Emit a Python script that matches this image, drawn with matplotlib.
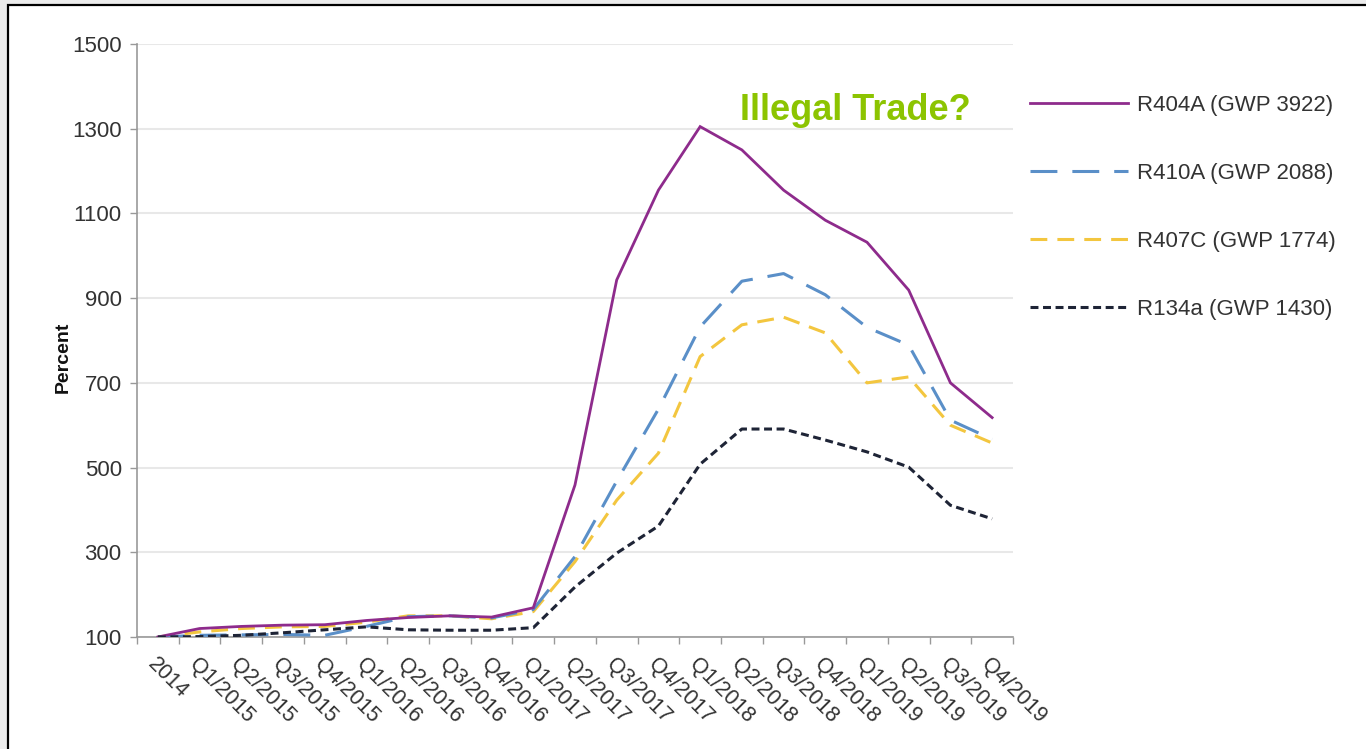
import matplotlib
matplotlib.use("Agg")
import matplotlib.pyplot as plt
from matplotlib.patches import Rectangle
import numpy as np

plt.rcParams['font.family'] = ['Liberation Sans', 'DejaVu Sans']

categories = ["2014", "Q1/2015", "Q2/2015", "Q3/2015", "Q4/2015",
              "Q1/2016", "Q2/2016", "Q3/2016", "Q4/2016",
              "Q1/2017", "Q2/2017", "Q3/2017", "Q4/2017",
              "Q1/2018", "Q2/2018", "Q3/2018", "Q4/2018",
              "Q1/2019", "Q2/2019", "Q3/2019", "Q4/2019"]

r404a = [100, 120, 125, 128, 129, 139, 146, 150, 147, 169, 459, 943, 1155, 1305, 1250, 1155, 1084, 1032, 919, 700, 618]
r410a = [100, 104, 105, 106, 104, 125, 148, 150, 145, 165, 290, 468, 638, 832, 940, 958, 908, 831, 789, 612, 567]
r407c = [100, 112, 120, 124, 125, 135, 150, 150, 143, 160, 278, 423, 534, 762, 837, 855, 818, 700, 714, 600, 558]
r134a = [100, 101, 104, 110, 117, 124, 117, 116, 116, 122, 218, 298, 362, 508, 591, 591, 565, 537, 501, 411, 379]

labels = ["R404A (GWP 3922)", "R410A (GWP 2088)", "R407C (GWP 1774)", "R134a (GWP 1430)"]
yticks = [100, 300, 500, 700, 900, 1100, 1300, 1500]

W, H = 1366, 749
fig = plt.figure(figsize=(W / 100, H / 100), dpi=100, facecolor="#ececec")

# outer frame
fig.patches.append(Rectangle((8 / W, -0.05), 1.1, 1.05 - 5 / H, transform=fig.transFigure,
                             facecolor="white", edgecolor="black", linewidth=1.6, zorder=-10))

ax = fig.add_axes([137 / W, 1 - 637 / H, (1013 - 137) / W, (637 - 44) / H])
ax.set_facecolor("white")
ax.set_zorder(1)

x = np.arange(len(categories))
lw = 2.2
ax.plot(x, r404a, color="#8E2B8C", lw=2.0, label=labels[0], solid_joinstyle="miter", zorder=5)
ax.plot(x, r410a, color="#5A8FC8", lw=lw, dashes=(8.8, 4.9), label=labels[1], zorder=4)
ax.plot(x, r407c, color="#F3C63F", lw=lw, dashes=(5.5, 3.3), label=labels[2], zorder=3)
ax.plot(x, r134a, color="#1E2436", lw=lw, dashes=(2.6, 1.5), label=labels[3], zorder=6)

ax.set_xlim(-0.5, len(categories) - 0.5)
ax.set_ylim(100, 1500)
ax.set_yticks(yticks)
ax.set_yticklabels([str(v) for v in yticks], fontsize=16, color="#333333")

ax.set_xticks(x)
ax.set_xticklabels(categories, rotation=-45, ha="left", va="top",
                   rotation_mode="anchor", fontsize=15.5, color="#333333")
ax.set_xticks(np.arange(-0.5, len(categories), 1.0), minor=True)
ax.tick_params(axis="x", which="major", length=0, pad=12)
ax.tick_params(axis="x", which="minor", length=5, color="#999999", width=1)
ax.tick_params(axis="y", length=5, color="#999999", width=1, pad=6)

for s in ["top", "right"]:
    ax.spines[s].set_visible(False)
for s in ["left", "bottom"]:
    ax.spines[s].set_color("#999999")
    ax.spines[s].set_linewidth(1.2)

ax.grid(axis="y", color="#e8e8e8", linewidth=1.5)
ax.set_axisbelow(True)

ax.set_ylabel("Percent", fontsize=14, fontweight="bold", color="#111111")
ax.yaxis.set_label_coords((72 - 137) / 876, (637 - 357) / 593)

leg = ax.legend(loc="upper left", bbox_to_anchor=(1030 / W, 1 - 95 / H),
                bbox_transform=fig.transFigure, frameon=False, fontsize=16,
                handlelength=4.4, handletextpad=0.4, labelspacing=2.11, borderpad=0,
                borderaxespad=0)
for t in leg.get_texts():
    t.set_color("#333333")

fig.text(740 / W, 1 - 120 / H, "Illegal Trade?", fontsize=26, fontweight="bold",
         color="#8CC401", ha="left", va="baseline")

fig.savefig("out.png", dpi=100, facecolor=fig.get_facecolor())
